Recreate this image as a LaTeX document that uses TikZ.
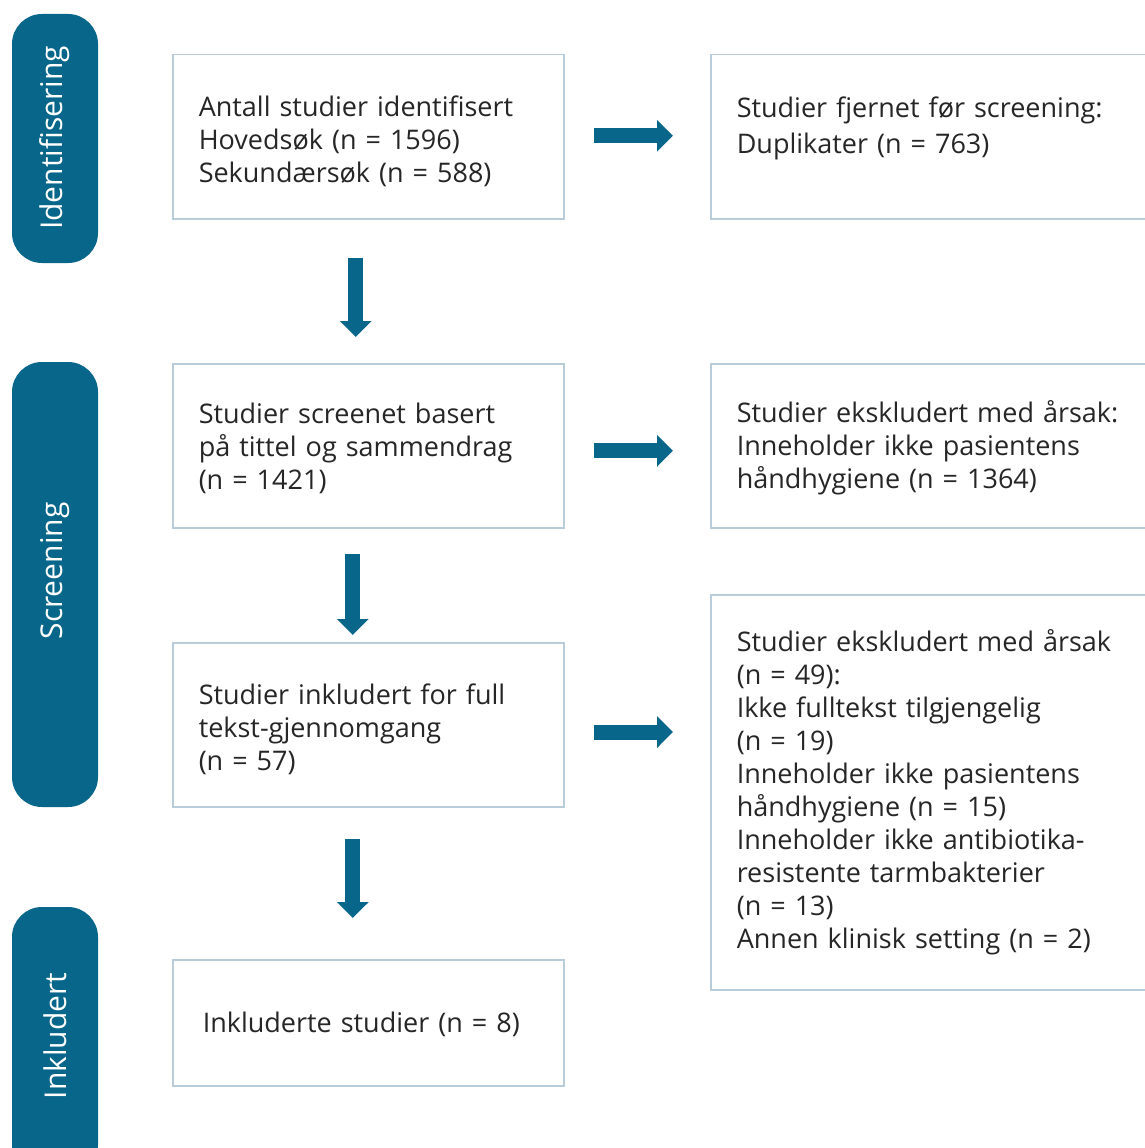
\documentclass[tikz,border=0pt]{standalone}
\usepackage{fontspec}
\setmainfont{Open Sans}
\usetikzlibrary{arrows.meta}
\definecolor{tealbar}{HTML}{08668A}
\definecolor{boxedge}{HTML}{B8CCDA}
\definecolor{txtgray}{HTML}{262626}
\newcommand\boxfont{\fontsize{27}{33}\selectfont}
\newcommand\barfont{\fontsize{30}{33}\selectfont}
\newcommand\topstrut[1]{\rule{0pt}{#1}}
\begin{document}
\begin{tikzpicture}[x=1pt,y=-1pt,
  flowbox/.style={draw=boxedge, line width=1.5pt, fill=white, anchor=north west,
    inner xsep=26pt, inner ysep=0pt, align=left, font=\boxfont, text=txtgray},
  phasetext/.style={text=white, font=\barfont, rotate=90},
  blockarrow/.style={draw=tealbar, line width=15pt, -{Triangle[width=31pt,length=16pt]}}
]
\useasboundingbox (0,0) rectangle (1145,1148);
\clip (0,0) rectangle (1145,1148);

% phase bars
\fill[tealbar, rounded corners=30pt] (12,14) rectangle (98,263);
\fill[tealbar, rounded corners=30pt] (12,362) rectangle (98,807);
\fill[tealbar, rounded corners=30pt] (12,907) rectangle (98,1175);
\node[phasetext] (p1) at (55,138) {Identifisering};
\node[phasetext] (p2) at (55,571) {Screening};
\node[phasetext] (p3) at (55,1036) {Inkludert};

% left column
\node[flowbox, text width=339pt, minimum height=164pt] (b1) at (172,54)
  {\topstrut{30pt}Antall studier identifisert\\Hovedsøk (n = 1596)\\Sekundærsøk (n = 588)};
\node[flowbox, text width=339pt, minimum height=164pt] (b2) at (172,363)
  {\topstrut{26.5pt}Studier screenet basert\\på tittel og sammendrag\\(n = 1421)};
\node[flowbox, text width=339pt, minimum height=164pt] (b3) at (172,642)
  {\topstrut{30pt}Studier inkludert for full\\tekst-gjennomgang\\(n = 57)};
\node[flowbox, inner xsep=30pt, text width=331pt, minimum height=126pt] (b4) at (172,959)
  {\topstrut{24.5pt}Inkluderte studier (n = 8)};

% right column
\node[flowbox, text width=408pt, minimum height=164pt] (r1) at (710,54)
  {Studier fjernet før screening:\\[3pt]Duplikater (n = 763)\\[-9pt]\mbox{}};
\node[flowbox, text width=408pt, minimum height=164pt] (r2) at (710,363)
  {\topstrut{26.5pt}Studier ekskludert med årsak:\\Inneholder ikke pasientens\\håndhygiene (n = 1364)};
\node[flowbox, text width=408pt, minimum height=395pt] (r3) at (710,594)
  {Studier ekskludert med årsak\\(n = 49):\\Ikke fulltekst tilgjengelig\\(n = 19)\\Inneholder ikke pasientens\\håndhygiene (n = 15)\\Inneholder ikke antibiotika-\\resistente tarmbakterier\\(n = 13)\\Annen klinisk setting (n = 2)};

% down arrows
\draw[blockarrow, shorten <=38pt, shorten >=26pt] ([xshift=-12.5pt]b1.south) -- ([xshift=-12.5pt]b2.north);
\draw[blockarrow, shorten <=25pt, shorten >=7pt] ([xshift=-15.5pt]b2.south) -- ([xshift=-15.5pt]b3.north);
\draw[blockarrow, shorten <=31pt, shorten >=41pt] ([xshift=-15.5pt]b3.south) -- ([xshift=-15.5pt]b4.north);

% right arrows
\draw[blockarrow, shorten <=29pt, shorten >=37pt] ([yshift=1pt]b1.east) -- ([yshift=1pt]b1.east -| r1.west);
\draw[blockarrow, shorten <=29pt, shorten >=37pt] ([yshift=-5pt]b2.east) -- ([yshift=-5pt]b2.east -| r2.west);
\coordinate (r3in) at (710,732);
\draw[blockarrow, shorten <=29pt, shorten >=37pt] (b3.east |- r3in) -- (r3in);
\end{tikzpicture}
\end{document}
